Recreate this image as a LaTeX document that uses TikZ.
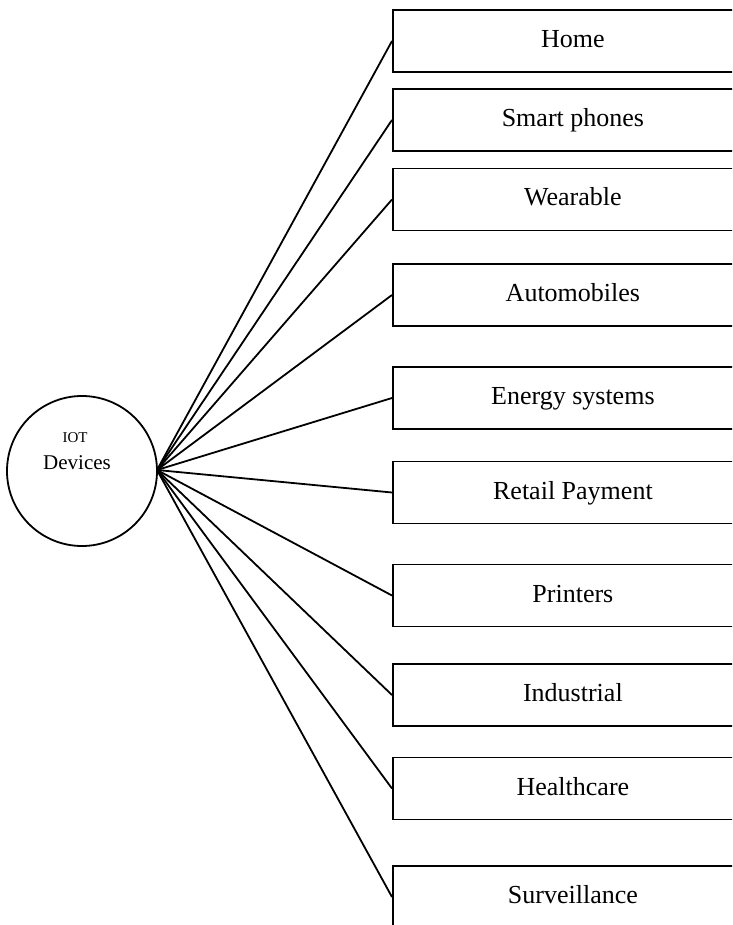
\documentclass[tikz,border=0pt]{standalone}
\usepackage{fontspec}
\setmainfont{Liberation Serif}
\begin{document}
\begin{tikzpicture}[x=1pt,y=-1pt,
  catbox/.style={draw, line width=1.8pt, rectangle, minimum width=360pt, minimum height=62pt, inner sep=0pt, font=\fontsize{26}{30}\selectfont, text height=18pt, text depth=5pt, anchor=west},
  hub/.style={draw, line width=1.8pt, circle, minimum size=150pt, inner sep=0pt},
  link/.style={line width=1.8pt}]
\useasboundingbox (0,0) rectangle (732,925);
\clip (0,0) rectangle (732,925);
\node[hub] (iot) at (82,471) {};
\node[font=\fontsize{15}{18}\selectfont] (iotl) at (75,438) {IOT};
\node[font=\fontsize{21}{25}\selectfont] (devl) at (77,463) {Devices};
\coordinate (hubpt) at (157,470);
\node[catbox] (b1) at (392,41) {Home};
\node[catbox] (b2) at (392,120) {Smart phones};
\node[catbox] (b3) at (392,199.5) {Wearable};
\node[catbox] (b4) at (392,295) {Automobiles};
\node[catbox] (b5) at (392,398) {Energy systems};
\node[catbox] (b6) at (392,492.5) {Retail Payment};
\node[catbox] (b7) at (392,595.5) {Printers};
\node[catbox] (b8) at (392,695) {Industrial};
\node[catbox] (b9) at (392,788.5) {Healthcare};
\node[catbox] (b10) at (392,897) {Surveillance};
\foreach \b in {b1,b2,b3,b4,b5,b6,b7,b8,b9,b10}
  \draw[link] (hubpt) -- (\b.west);
\end{tikzpicture}
\end{document}
